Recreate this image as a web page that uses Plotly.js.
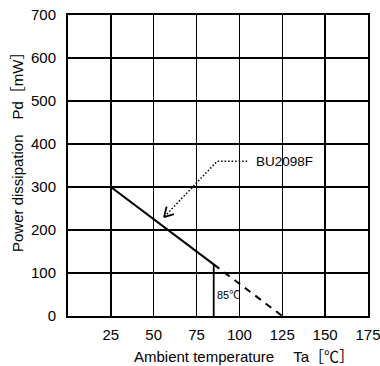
<!DOCTYPE html>
<html>
<head>
<meta charset="utf-8">
<script src="https://cdn.plot.ly/plotly-3.0.1.min.js"></script>
<style>html,body{margin:0;padding:0;background:#fff;}#chart{width:380px;height:366px;}</style>
</head>
<body>
<div id="chart"></div>
<script>
// Derating curve data
const solidTemp = [0, 25, 85];
const solidPd = [300, 300, 120];
const dashTemp = [85, 125];
const dashPd = [120, 0];
const markerTemp = [85, 85];
const markerPd = [0, 120];
const leaderTemp = [104.5, 87, 56];
const leaderPd = [360, 360, 230];
const xTicks = [25, 50, 75, 100, 125, 150, 175];
const yTicks = [0, 100, 200, 300, 400, 500, 600, 700];
const partName = "BU2098F";
const limitLabel = "85℃";

const FONT = "Liberation Sans, Arial, 'Noto Sans CJK JP', sans-serif";

const traces = [
  {x: solidTemp, y: solidPd, mode: 'lines', line: {color: '#000', width: 2}, hoverinfo: 'skip'},
  {x: dashTemp, y: dashPd, mode: 'lines', line: {color: '#000', width: 2, dash: '7px,6px'}, hoverinfo: 'skip'},
  {x: markerTemp, y: markerPd, mode: 'lines', line: {color: '#000', width: 1.8}, hoverinfo: 'skip'},
  {x: leaderTemp, y: leaderPd, mode: 'lines', line: {color: '#000', width: 1.5, dash: '1.5px,2px'}, hoverinfo: 'skip'}
];

const tipX = leaderTemp[leaderTemp.length - 1];
const tipY = leaderPd[leaderPd.length - 1];

const layout = {
  width: 380, height: 366,
  margin: {l: 68, r: 12, t: 15, b: 50},
  paper_bgcolor: '#fff', plot_bgcolor: '#fff',
  showlegend: false,
  font: {family: FONT, size: 15, color: '#000'},
  xaxis: {
    range: [0, 175], tickvals: xTicks, ticktext: xTicks.map(String),
    showgrid: true, gridcolor: '#000', gridwidth: 1.4,
    showline: true, mirror: true, linecolor: '#000', linewidth: 2,
    ticks: '', zeroline: false, fixedrange: true, ticklabelstandoff: 4,
    ticklabeloverflow: 'allow',
    tickfont: {family: FONT, size: 15, color: '#000'}
  },
  yaxis: {
    range: [0, 700], tickvals: yTicks, ticktext: yTicks.map(String),
    showgrid: true, gridcolor: '#000', gridwidth: 1.4,
    showline: true, mirror: true, linecolor: '#000', linewidth: 2,
    ticks: '', zeroline: false, fixedrange: true, ticklabelstandoff: 7,
    ticklabeloverflow: 'allow',
    tickfont: {family: FONT, size: 15, color: '#000'}
  },
  annotations: [
    {x: 0.588, y: -0.136, xref: 'paper', yref: 'paper', xanchor: 'center', yanchor: 'middle',
     text: 'Ambient temperature　&nbsp;Ta［℃］', showarrow: false, font: {family: FONT, size: 15, color: '#000'}},
    {x: -0.17, y: 0.558, xref: 'paper', yref: 'paper', xanchor: 'center', yanchor: 'middle', textangle: -90,
     text: 'Power dissipation　Pd［mW］', showarrow: false, font: {family: FONT, size: 15, color: '#000'}},
    {x: 108.5, y: 360, xref: 'x', yref: 'y', xanchor: 'left', yanchor: 'middle',
     text: partName, showarrow: false, font: {family: FONT, size: 13.5, color: '#000'}},
    {x: 85.5, y: 49, xref: 'x', yref: 'y', xanchor: 'left', yanchor: 'middle',
     text: limitLabel, showarrow: false, font: {family: FONT, size: 11, color: '#000'}},
    {x: tipX, y: tipY, xref: 'x', yref: 'y', ax: 11.5, ay: -3.5, text: '', showarrow: true, arrowhead: 0, arrowwidth: 1.8, arrowcolor: '#000', standoff: 0},
    {x: tipX, y: tipY, xref: 'x', yref: 'y', ax: 3, ay: -12, text: '', showarrow: true, arrowhead: 0, arrowwidth: 1.8, arrowcolor: '#000', standoff: 0}
  ]
};

Plotly.newPlot('chart', traces, layout, {displayModeBar: false, staticPlot: true});
</script>
</body>
</html>
